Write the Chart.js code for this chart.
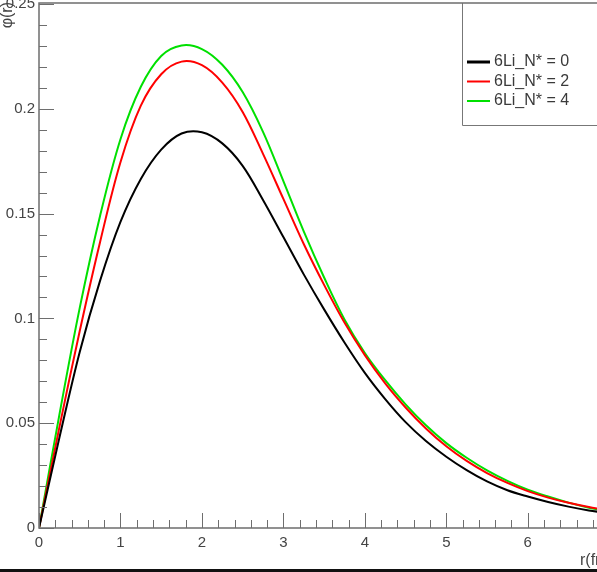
<!DOCTYPE html>
<html>
<head>
<meta charset="utf-8">
<script src="https://cdn.jsdelivr.net/npm/chart.js@4/dist/chart.umd.min.js"></script>
<style>
  html, body { margin: 0; padding: 0; background: #fff; }
  #wrap { width: 597px; height: 572px; position: relative; }
</style>
</head>
<body>
<div id="wrap"><canvas id="chart" width="597" height="572"></canvas></div>
<script>
// r in fm
const radius = [0, 0.25, 0.5, 0.75, 1.0, 1.25, 1.5, 1.75, 2.0, 2.25, 2.5, 2.75, 3.0, 3.25, 3.5, 3.75, 4.0, 4.25, 4.5, 4.75, 5.0, 5.25, 5.5, 5.75, 6.0, 6.25, 6.5, 6.75, 7.0];

// phi(r)
const phiN0 = [0, 0.043, 0.084, 0.118, 0.146, 0.1665, 0.1805, 0.1882, 0.1888, 0.1835, 0.1728, 0.1565, 0.1388, 0.121, 0.1043, 0.0885, 0.074, 0.0615, 0.0505, 0.0415, 0.034, 0.0276, 0.0222, 0.018, 0.015, 0.0124, 0.0102, 0.0084, 0.007];
const phiN2 = [0, 0.048, 0.094, 0.1365, 0.1745, 0.2015, 0.2165, 0.2225, 0.2208, 0.2125, 0.1985, 0.1785, 0.157, 0.1355, 0.116, 0.098, 0.0825, 0.069, 0.0575, 0.0475, 0.039, 0.032, 0.0262, 0.0215, 0.0176, 0.0145, 0.012, 0.01, 0.0084];
const phiN4 = [0, 0.054, 0.105, 0.149, 0.1855, 0.2105, 0.2252, 0.2302, 0.2285, 0.221, 0.208, 0.189, 0.1655, 0.1415, 0.1195, 0.0995, 0.0835, 0.0705, 0.059, 0.049, 0.0405, 0.0335, 0.0275, 0.0225, 0.0183, 0.015, 0.0121, 0.0097, 0.0078];

const seriesLabels = ['6Li_N* = 0', '6Li_N* = 2', '6Li_N* = 4'];
const seriesColors = ['#000000', '#ff0000', '#00e000'];

const xTicks = [0, 1, 2, 3, 4, 5, 6];
const yTicks = [0, 0.05, 0.1, 0.15, 0.2, 0.25];

const FONT = '"Liberation Sans", Arial, sans-serif';
const AXIS = '#6e6e6e';

function toPoints(ys) {
    return radius.map((r, i) => ({ x: r, y: ys[i] }));
}

function noPad(scale) {
    scale.paddingTop = 0;
    scale.paddingBottom = 0;
    scale.paddingLeft = 0;
    scale.paddingRight = 0;
}

// ROOT-like frame, inner ticks, titles and legend
const rootStyle = {
    id: 'rootStyle',
    beforeDraw(chart) {
        const ctx = chart.ctx;
        ctx.save();
        ctx.fillStyle = '#fff';
        ctx.fillRect(0, 0, chart.width, chart.height);
        ctx.restore();
    },
    afterDraw(chart) {
        const ctx = chart.ctx;
        const xs = chart.scales.x;
        const ys = chart.scales.y;
        const a = chart.chartArea;
        ctx.save();

        // legend box
        const lx = 462, ly = 3, lb = 125;
        ctx.fillStyle = '#fff';
        ctx.fillRect(lx, ly, chart.width - lx, lb - ly);
        ctx.strokeStyle = '#777';
        ctx.lineWidth = 1;
        ctx.beginPath();
        ctx.moveTo(lx + 0.5, ly);
        ctx.lineTo(lx + 0.5, lb + 0.5);
        ctx.lineTo(chart.width, lb + 0.5);
        ctx.stroke();

        ctx.font = '16px ' + FONT;
        ctx.textBaseline = 'middle';
        ctx.textAlign = 'left';
        chart.data.datasets.forEach((ds, i) => {
            const y = 62 + i * 19.5;
            ctx.strokeStyle = ds.borderColor;
            ctx.lineWidth = i === 0 ? 3 : 2;
            ctx.beginPath();
            ctx.moveTo(467, y);
            ctx.lineTo(490, y);
            ctx.stroke();
            ctx.fillStyle = '#3a3a3a';
            ctx.fillText(ds.label, 494, y);
        });

        // axes frame
        ctx.strokeStyle = AXIS;
        ctx.lineWidth = 1.5;
        ctx.beginPath();
        ctx.moveTo(chart.width, a.top - 1);
        ctx.lineTo(a.left, a.top - 1);
        ctx.lineTo(a.left, a.bottom);
        ctx.lineTo(chart.width, a.bottom);
        ctx.stroke();

        // x ticks: major every 1, minor every 0.2
        ctx.lineWidth = 1;
        ctx.beginPath();
        for (let k = 0; k <= 35; k++) {
            const v = k * 0.2;
            if (v > xs.max) break;
            const px = Math.round(xs.getPixelForValue(v)) + 0.5;
            const len = k % 5 === 0 ? 15 : 8;
            ctx.moveTo(px, a.bottom);
            ctx.lineTo(px, a.bottom - len);
        }
        // y ticks: major every 0.05, minor every 0.01
        for (let k = 0; k <= 25; k++) {
            const v = k * 0.01;
            const py = Math.round(ys.getPixelForValue(v)) + 0.5;
            const len = k % 5 === 0 ? 15 : 8;
            ctx.moveTo(a.left, py);
            ctx.lineTo(a.left + len, py);
        }
        ctx.stroke();

        // axis titles
        ctx.fillStyle = '#444';
        ctx.font = '16px ' + FONT;
        ctx.textAlign = 'left';
        ctx.textBaseline = 'middle';
        ctx.fillText('r(fm)', 580, 561);
        ctx.save();
        ctx.translate(8, 2);
        ctx.rotate(-Math.PI / 2);
        ctx.textAlign = 'right';
        ctx.fillText('φ(r)', 0, 0);
        ctx.restore();

        // dark bar at the bottom
        ctx.fillStyle = '#111';
        ctx.fillRect(0, 569, chart.width, 3);
        ctx.restore();
    }
};

new Chart(document.getElementById('chart').getContext('2d'), {
    type: 'line',
    data: {
        datasets: [phiN0, phiN2, phiN4].map((ys, i) => ({
            label: seriesLabels[i],
            data: toPoints(ys),
            borderColor: seriesColors[i],
            backgroundColor: seriesColors[i],
            borderWidth: 2,
            pointRadius: 0,
            tension: 0.35,
            fill: false
        }))
    },
    options: {
        responsive: false,
        animation: false,
        layout: { padding: { top: 4, right: 0, bottom: 0, left: 0 } },
        plugins: {
            legend: { display: false },
            tooltip: { enabled: false }
        },
        scales: {
            x: {
                type: 'linear',
                min: 0,
                max: 6.85,
                afterBuildTicks: scale => { scale.ticks = xTicks.map(v => ({ value: v })); },
                afterFit: scale => { scale.height = 44; noPad(scale); },
                grid: { display: false, drawTicks: false },
                border: { display: false },
                ticks: {
                    padding: 6,
                    maxRotation: 0,
                    color: '#444',
                    font: { family: FONT, size: 15 },
                    callback: v => String(v)
                }
            },
            y: {
                min: 0,
                max: 0.25,
                afterBuildTicks: scale => { scale.ticks = yTicks.map(v => ({ value: v })); },
                afterFit: scale => { scale.width = 39; noPad(scale); },
                grid: { display: false, drawTicks: false },
                border: { display: false },
                ticks: {
                    padding: 4,
                    color: '#444',
                    font: { family: FONT, size: 15 },
                    callback: v => String(+v.toFixed(2))
                }
            }
        }
    },
    plugins: [rootStyle]
});
</script>
</body>
</html>
